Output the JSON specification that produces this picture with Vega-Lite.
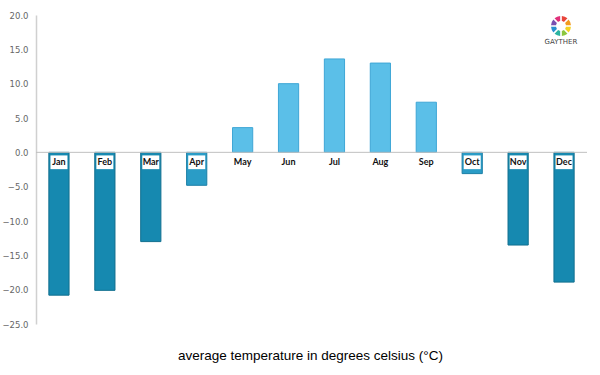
{
  "$schema": "https://vega.github.io/schema/vega-lite/v6.json",
  "width": 551,
  "height": 309,
  "autosize": {"type": "none"},
  "padding": {"left": 36, "top": 15, "right": 13, "bottom": 51},
  "background": "white",
  "config": {"view": {"stroke": null}, "axisY": {"labelOverlap": false, "labelFlush": false}},
  "resolve": {"scale": {"color": "independent", "theta": "independent"}, "axis": {"y": "independent"}},
  "datasets": {
    "temps": [
      {"month": "Jan", "temp": -20.8},
      {"month": "Feb", "temp": -20.1},
      {"month": "Mar", "temp": -13.0},
      {"month": "Apr", "temp": -4.8},
      {"month": "May", "temp": 3.6},
      {"month": "Jun", "temp": 10.0},
      {"month": "Jul", "temp": 13.6},
      {"month": "Aug", "temp": 13.0},
      {"month": "Sep", "temp": 7.3},
      {"month": "Oct", "temp": -3.1},
      {"month": "Nov", "temp": -13.5},
      {"month": "Dec", "temp": -18.9}
    ],
    "logo": [
      {"seg": 1, "col": "#e8443a"},
      {"seg": 2, "col": "#f39a1e"},
      {"seg": 3, "col": "#f4d21f"},
      {"seg": 4, "col": "#8cc63e"},
      {"seg": 5, "col": "#2bb3a0"},
      {"seg": 6, "col": "#2a8fd0"},
      {"seg": 7, "col": "#7a4fb0"},
      {"seg": 8, "col": "#e0307a"}
    ],
    "brand": [{"name": "GAYTHER"}]
  },
  "layer": [
    {
      "data": {"name": "temps"},
      "mark": {"type": "bar", "strokeWidth": 1},
      "encoding": {
        "x": {
          "field": "month", "type": "nominal", "sort": null,
          "scale": {"paddingInner": 0.56, "paddingOuter": 0.28},
          "axis": {"labels": false, "ticks": false, "domain": false, "title": "average temperature in degrees celsius (°C)", "titleFont": "Liberation Sans", "titleFontSize": 13.5, "titleFontWeight": "normal", "titleColor": "#000", "titlePadding": 24, "titleX": 274}
        },
        "y": {
          "field": "temp", "type": "quantitative",
          "scale": {"domain": [-25, 20], "nice": false},
          "axis": {"values": [-25, -20, -15, -10, -5, 0, 5, 10, 15, 20], "labelOverlap": false, "format": ".1f", "grid": false, "ticks": false, "domainColor": "#d0d0d0", "domainWidth": 1.5, "labelColor": "#666", "labelFont": "DejaVu Sans", "labelFontSize": 8.5, "labelPadding": 8, "title": null}
        },
        "color": {
          "field": "temp", "type": "quantitative",
          "scale": {"type": "threshold", "domain": [-5, 0], "range": ["#1689b0", "#2a9cc6", "#5bbfe8"]},
          "legend": null
        },
        "stroke": {
          "field": "temp", "type": "quantitative",
          "scale": {"type": "threshold", "domain": [-5, 0], "range": ["#116f8f", "#1c7fa6", "#3ea6d6"]},
          "legend": null
        }
      }
    },
    {
      "data": {"name": "brand"},
      "mark": {"type": "rule", "color": "#c0c0c0", "strokeWidth": 1},
      "encoding": {"y": {"datum": 0, "axis": null}, "x": {"value": 0}, "x2": {"value": 551}}
    },
    {
      "data": {"name": "temps"},
      "transform": [{"filter": "datum.temp < 0"}],
      "mark": {"type": "bar", "color": "white", "size": 17},
      "encoding": {
        "x": {"field": "month", "type": "nominal", "sort": null},
        "y": {"datum": -0.45, "axis": null}, "y2": {"datum": -2.45}
      }
    },
    {
      "data": {"name": "temps"},
      "mark": {"type": "text", "font": "Lato", "fontSize": 9, "fontWeight": "bold", "color": "#111", "baseline": "middle", "dy": 10},
      "encoding": {
        "x": {"field": "month", "type": "nominal", "sort": null},
        "y": {"datum": 0, "axis": null}, "text": {"field": "month"}
      }
    },
    {
      "data": {"name": "brand"},
      "mark": {"type": "text", "font": "DejaVu Sans", "fontSize": 7, "color": "#444", "x": 525, "y": 27},
      "encoding": {"text": {"field": "name"}}
    },
    {
      "data": {"name": "logo"},
      "mark": {"type": "arc", "x": 525, "y": 11, "innerRadius": 5, "outerRadius": 10, "padAngle": 0.15},
      "encoding": {
        "theta": {"field": "seg", "type": "quantitative", "aggregate": "count", "stack": true},
        "order": {"field": "seg", "type": "quantitative"},
        "color": {"field": "col", "type": "nominal", "scale": null}
      }
    }
  ]
}
